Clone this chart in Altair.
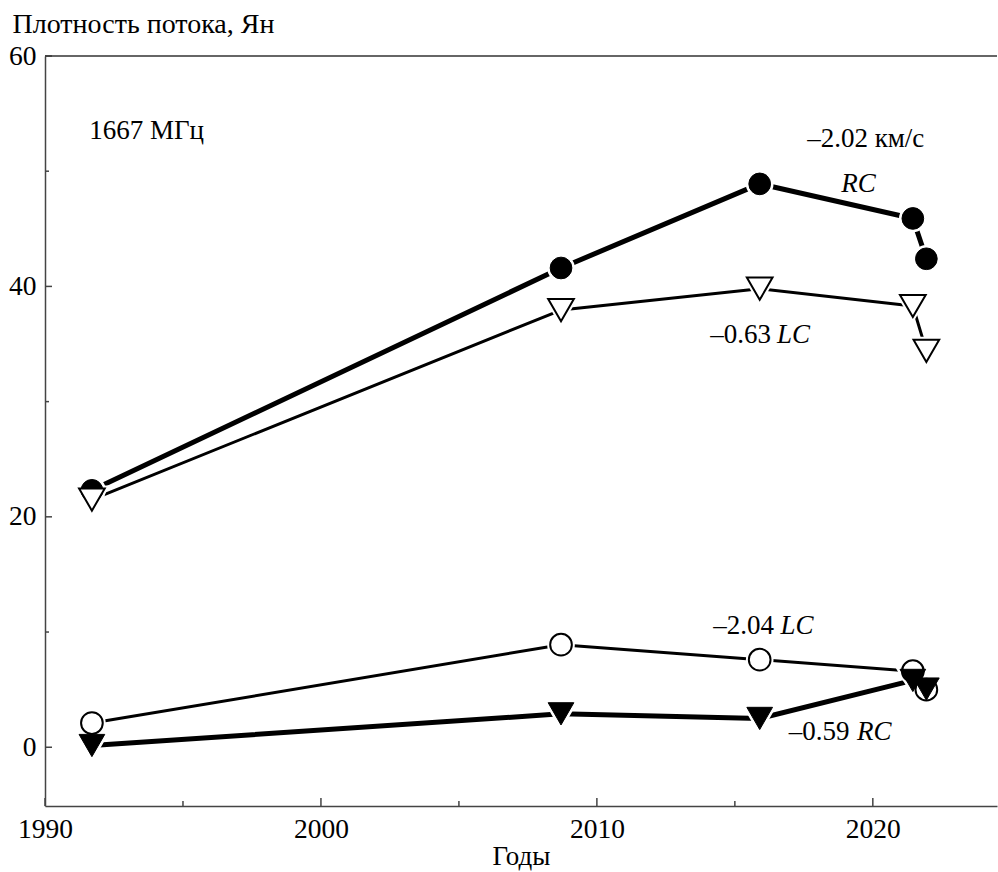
import altair as alt
import pandas as pd

# ---- data ----
years = [1991.7, 2008.7, 2015.9, 2021.45, 2021.94]
rc_202 = [22.3, 41.6, 48.9, 45.9, 42.4]     # filled circles, thick line
lc_063 = [21.5, 37.95, 39.8, 38.3, 34.4]    # open triangles, thin line
lc_204 = [2.1, 8.9, 7.6, 6.6, 5.0]          # open circles, thin line
rc_059 = [0.15, 2.9, 2.5, 5.8, 5.05]        # filled triangles, thick line

x_major = [1990, 2000, 2010, 2020]
x_minor = [1995, 2005, 2015]
y_major = [0, 20, 40, 60]
y_minor = [10, 30, 50]

ann_text = ["1667 МГц", "–2.02 км/с", "RC", "–0.63", "LC", "–2.04", "LC", "–0.59", "RC"]
ann_x = [1991.6, 2017.62, 2018.86, 2014.11, 2016.53, 2014.22, 2016.65, 2016.95, 2019.43]
ann_y = [53.45, 52.8, 48.9, 35.75, 35.75, 10.5, 10.5, 1.3, 1.3]
ann_italic = [False, False, True, False, True, False, True, False, True]

W, H = 952, 750
FONT = "Liberation Serif"
FS = 27
LFS = 27.5

xscale = alt.Scale(domain=[1990, 2024.5], nice=False, zero=False)
yscale = alt.Scale(domain=[-5.1, 60], nice=False, zero=False)

xaxis = alt.Axis(values=x_major, format="d", ticks=False, tickSize=0, grid=False,
                 labelFont=FONT, labelFontSize=LFS, labelColor="black",
                 labelPadding=31, labelBaseline="alphabetic", labelFlush=False,
                 labelOverlap=False,
                 domainColor="#444", domainWidth=1.5,
                 titleFont=FONT, titleFontSize=27, titleFontWeight="normal",
                 titleColor="black", titleBaseline="alphabetic", titleY=58)
yaxis = alt.Axis(values=y_major, ticks=False, tickSize=0, grid=False,
                 labelFont=FONT, labelFontSize=LFS, labelColor="black",
                 labelPadding=9, labelFlush=False, labelOverlap=False,
                 domainColor="#444", domainWidth=1.5,
                 titleFont=FONT, titleFontSize=28, titleFontWeight="normal",
                 titleColor="black", titleAngle=0, titleAlign="left",
                 titleBaseline="alphabetic", titleX=-33, titleY=-24)


def X(field):
    return alt.X(field, scale=xscale, title="Годы", axis=xaxis)


def Y(field):
    return alt.Y(field, scale=yscale, title="Плотность потока, Ян", axis=yaxis)


def frame(values):
    return pd.DataFrame({"year": years, "v": values})


def line(values, width):
    return alt.Chart(frame(values)).mark_line(
        color="black", strokeWidth=width, strokeCap="round", strokeJoin="round"
    ).encode(x=X("year:Q"), y=Y("v:Q"))


def points(values, shape, size, fill, stroke, sw):
    return alt.Chart(frame(values)).mark_point(
        shape=shape, size=size, filled=True, fill=fill, stroke=stroke,
        strokeWidth=sw, opacity=1
    ).encode(x=X("year:Q"), y=Y("v:Q"))


CIRC = 470
TRI = 660

lines = [line(rc_202, 5), line(lc_063, 3), line(lc_204, 3), line(rc_059, 5)]
halos = [
    points(rc_202, "circle", CIRC, "white", "white", 6),
    points(lc_063, "triangle-down", TRI, "white", "white", 6),
    points(lc_204, "circle", CIRC, "white", "white", 6),
    points(rc_059, "triangle-down", TRI, "white", "white", 6),
]
marks = [
    points(rc_202, "circle", CIRC, "black", "black", 1),
    points(lc_063, "triangle-down", TRI, "white", "black", 2),
    points(lc_204, "circle", CIRC, "white", "black", 2),
    points(rc_059, "triangle-down", TRI, "black", "black", 1),
]

xt_major = alt.Chart(pd.DataFrame({"year": x_major})).mark_rule(color="#444", strokeWidth=1.5).encode(
    x=X("year:Q"), y=alt.value(H), y2=alt.value(H - 8))
xt_minor = alt.Chart(pd.DataFrame({"year": x_minor})).mark_rule(color="#444", strokeWidth=1.5).encode(
    x=X("year:Q"), y=alt.value(H), y2=alt.value(H - 5))
yt_major = alt.Chart(pd.DataFrame({"v": y_major})).mark_rule(color="#444", strokeWidth=1.5).encode(
    y=Y("v:Q"), x=alt.value(0), x2=alt.value(7))
yt_minor = alt.Chart(pd.DataFrame({"v": y_minor})).mark_rule(color="#444", strokeWidth=1.5).encode(
    y=Y("v:Q"), x=alt.value(0), x2=alt.value(4))
top_line = alt.Chart(pd.DataFrame({"a": [0]})).mark_rule(color="#333", strokeWidth=1.5).encode(
    x=alt.value(0), x2=alt.value(W), y=alt.value(0))

ann = pd.DataFrame({"year": ann_x, "v": ann_y, "text": ann_text, "it": ann_italic})


def ann_layer(italic):
    return alt.Chart(ann).transform_filter(
        alt.datum.it if italic else ~alt.datum.it
    ).mark_text(
        font=FONT, fontSize=FS, color="black", align="left", baseline="middle",
        fontStyle="italic" if italic else "normal"
    ).encode(x=X("year:Q"), y=Y("v:Q"), text="text:N")


chart = alt.layer(
    xt_major, xt_minor, yt_major, yt_minor, top_line,
    *lines, *halos, *marks, ann_layer(False), ann_layer(True)
).properties(
    width=W, height=H,
    padding={"left": 45, "top": 56, "right": 1, "bottom": 66},
    autosize=alt.AutoSizeParams(type="none"),
    background="white",
).configure_view(stroke=None)

chart.save("out.html", embed_options={"renderer": "svg", "actions": False})
